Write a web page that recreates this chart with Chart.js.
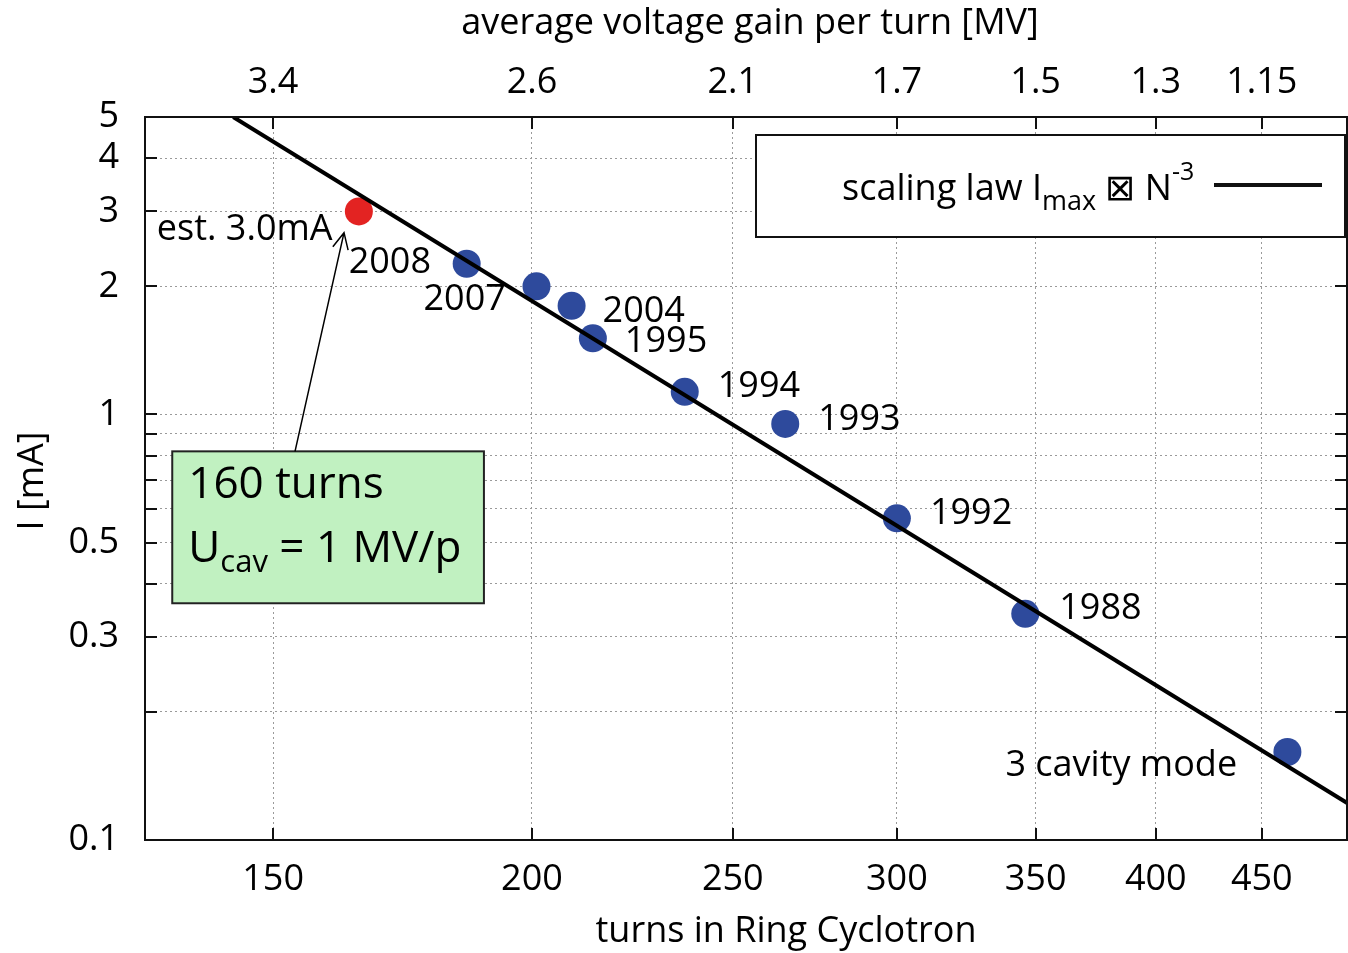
<!DOCTYPE html>
<html>
<head>
<meta charset="utf-8">
<script src="https://cdn.jsdelivr.net/npm/chart.js@4.4.0/dist/chart.umd.min.js"></script>
<style>
  html, body { margin: 0; padding: 0; background: #fff; overflow: hidden; }
  canvas { display: block; }
</style>
</head>
<body>
<canvas id="cyclotron" width="1348" height="953"></canvas>
<script>
// measured maximum beam current per run
const runLabels = ['2008', '2007', '2004', '1995', '1994', '1993', '1992', '1988', '3 cavity mode'];
const runTurns = [186, 201, 209, 214, 237, 265, 300, 346, 463];
const runCurrent = [2.26, 2.0, 1.8, 1.51, 1.13, 0.95, 0.57, 0.34, 0.161];

// projected operating point
const estLabels = ['est. 3.0mA'];
const estTurns = [165];
const estCurrent = [3.0];

// scaling law I ~ N^-3, end points
const lawTurns = [143.5, 495];
const lawCurrent = [5.0, 0.122];

// axes
const turnTicks = [150, 200, 250, 300, 350, 400, 450];
const voltageTicks = ['3.4', '2.6', '2.1', '1.7', '1.5', '1.3', '1.15'];
const currentGrid = [0.1, 0.2, 0.3, 0.4, 0.5, 0.6, 0.7, 0.8, 0.9, 1, 2, 3, 4, 5];
const currentLabels = [0.1, 0.3, 0.5, 1, 2, 3, 4, 5];

// label placement next to each point (px)
const runLabelOffsets = [[-118, -1], [-113, 13], [31, 6], [32, 3], [33, -5], [33, -4], [33, -5], [34, -5], [-282, 14]];
const estLabelOffsets = [[-202, 18]];

const FONT = "'Open Sans', sans-serif";
const TICK = 12;
const FS = 36;

Chart.defaults.font.family = FONT;
Chart.defaults.color = '#000';

function drawRich(ctx, parts, x, y) {
  // parts: [text, size, baselineShift]
  parts.forEach(([t, size, dy]) => {
    ctx.font = size + 'px ' + FONT;
    ctx.fillText(t, x, y + dy);
    x += ctx.measureText(t).width;
  });
}

// fixed axis boxes, no extra edge padding for labels
function fixBox(size) {
  return s => {
    if (s.isHorizontal()) s.height = size; else s.width = size;
    s.paddingLeft = 0; s.paddingRight = 0; s.paddingTop = 0; s.paddingBottom = 0;
  };
}

const overlay = {
  id: 'overlay',
  afterDraw(chart) {
    const { ctx, chartArea: a, scales } = chart;
    const xs = scales.x, ys = scales.y;
    ctx.save();

    // frame with inward ticks
    ctx.strokeStyle = '#111';
    ctx.lineWidth = 2;
    ctx.strokeRect(a.left, a.top, a.right - a.left, a.bottom - a.top);
    ctx.beginPath();
    currentGrid.forEach(v => {
      const py = Math.round(ys.getPixelForValue(v));
      ctx.moveTo(a.left, py); ctx.lineTo(a.left + TICK, py);
      ctx.moveTo(a.right, py); ctx.lineTo(a.right - TICK, py);
    });
    turnTicks.forEach(v => {
      const px = Math.round(xs.getPixelForValue(v));
      ctx.moveTo(px, a.top); ctx.lineTo(px, a.top + TICK);
      ctx.moveTo(px, a.bottom); ctx.lineTo(px, a.bottom - TICK);
    });
    ctx.stroke();

    // point labels
    ctx.fillStyle = '#000';
    ctx.textAlign = 'left';
    ctx.textBaseline = 'middle';
    ctx.font = FS + 'px ' + FONT;
    runLabels.forEach((t, i) => {
      const px = xs.getPixelForValue(runTurns[i]);
      const py = ys.getPixelForValue(runCurrent[i]);
      ctx.fillText(t, px + runLabelOffsets[i][0], py + runLabelOffsets[i][1]);
    });
    estLabels.forEach((t, i) => {
      const px = xs.getPixelForValue(estTurns[i]);
      const py = ys.getPixelForValue(estCurrent[i]);
      ctx.fillText(t, px + estLabelOffsets[i][0], py + estLabelOffsets[i][1]);
    });

    // legend box
    const lx0 = a.right - 591, ly0 = a.top + 18, lx1 = a.right - 2, ly1 = a.top + 120;
    ctx.fillStyle = '#fff';
    ctx.fillRect(lx0, ly0, lx1 - lx0, ly1 - ly0);
    ctx.strokeStyle = '#111';
    ctx.lineWidth = 2;
    ctx.strokeRect(lx0, ly0, lx1 - lx0, ly1 - ly0);
    ctx.fillStyle = '#000';
    ctx.textBaseline = 'alphabetic';
    drawRich(ctx, [['scaling law I', FS, 0], ['max', 27, 10], [' \u22A0 N', FS, 0], ['-3', 25, -20]], lx0 + 86, ly0 + 65);
    ctx.beginPath();
    ctx.lineWidth = 4;
    ctx.moveTo(lx0 + 458, ly0 + 50);
    ctx.lineTo(lx0 + 566, ly0 + 50);
    ctx.stroke();

    // note box with arrow to the projected point
    const bx0 = xs.getPixelForValue(134.1), bx1 = xs.getPixelForValue(189.6);
    const by0 = ys.getPixelForValue(0.819), by1 = ys.getPixelForValue(0.36);
    ctx.fillStyle = '#c1f1c1';
    ctx.fillRect(bx0, by0, bx1 - bx0, by1 - by0);
    ctx.lineWidth = 2;
    ctx.strokeStyle = '#222';
    ctx.strokeRect(bx0, by0, bx1 - bx0, by1 - by0);
    ctx.fillStyle = '#000';
    drawRich(ctx, [['160 turns', 44, 0]], bx0 + 16, by0 + 47);
    drawRich(ctx, [['U', 44, 0], ['cav', 31, 10], [' = 1 MV/p', 44, 0]], bx0 + 16, by0 + 111);

    const tx = xs.getPixelForValue(153.7), ty = ys.getPixelForValue(0.819);
    const hx = xs.getPixelForValue(162.3), hy = ys.getPixelForValue(2.674);
    const ang = Math.atan2(hy - ty, hx - tx);
    ctx.beginPath();
    ctx.lineWidth = 1.5;
    ctx.strokeStyle = '#000';
    ctx.moveTo(tx, ty); ctx.lineTo(hx, hy);
    ctx.moveTo(hx - 18 * Math.cos(ang - 0.45), hy - 18 * Math.sin(ang - 0.45));
    ctx.lineTo(hx, hy);
    ctx.lineTo(hx - 18 * Math.cos(ang + 0.45), hy - 18 * Math.sin(ang + 0.45));
    ctx.stroke();

    // axis titles
    ctx.font = FS + 'px ' + FONT;
    ctx.textAlign = 'center';
    ctx.textBaseline = 'alphabetic';
    ctx.fillText('average voltage gain per turn [MV]', 750, 34);
    ctx.fillText('turns in Ring Cyclotron', 786, 942);
    ctx.translate(43, 481);
    ctx.rotate(-Math.PI / 2);
    ctx.fillText('I [mA]', 0, 0);

    ctx.restore();
  }
};

const gridStyle = { color: '#9a9a9a', lineWidth: 1, drawTicks: false };
const dotted = { display: false, dash: [2, 3] };

new Chart(document.getElementById('cyclotron'), {
  type: 'scatter',
  data: {
    datasets: [
      {
        type: 'line',
        label: 'scaling law',
        data: lawTurns.map((n, i) => ({ x: n, y: lawCurrent[i] })),
        borderColor: '#000',
        borderWidth: 4,
        pointRadius: 0,
        fill: false
      },
      {
        label: 'runs',
        data: runTurns.map((n, i) => ({ x: n, y: runCurrent[i] })),
        backgroundColor: '#2e4a9c',
        borderWidth: 0,
        pointRadius: 14
      },
      {
        label: 'estimate',
        data: estTurns.map((n, i) => ({ x: n, y: estCurrent[i] })),
        backgroundColor: '#e32322',
        borderWidth: 0,
        pointRadius: 14
      }
    ]
  },
  options: {
    responsive: false,
    animation: false,
    layout: { autoPadding: false, padding: { left: 0, right: 1, top: 0, bottom: 0 } },
    plugins: { legend: { display: false }, tooltip: { enabled: false } },
    scales: {
      x: {
        type: 'logarithmic',
        position: 'bottom',
        min: 130.1,
        max: 494.7,
        afterBuildTicks: s => { s.ticks = turnTicks.map(v => ({ value: v })); },
        afterFit: fixBox(113),
        ticks: { font: { size: FS }, padding: 18, maxRotation: 0, autoSkip: false, callback: v => String(v) },
        grid: gridStyle,
        border: dotted
      },
      x2: {
        type: 'logarithmic',
        position: 'top',
        min: 130.1,
        max: 494.7,
        afterBuildTicks: s => { s.ticks = turnTicks.map(v => ({ value: v })); },
        afterFit: fixBox(117),
        ticks: {
          font: { size: FS }, padding: 5, maxRotation: 0, autoSkip: false,
          callback: v => voltageTicks[turnTicks.indexOf(v)]
        },
        grid: { display: false },
        border: { display: false }
      },
      y: {
        type: 'logarithmic',
        min: 0.1,
        max: 5,
        afterBuildTicks: s => { s.ticks = currentGrid.map(v => ({ value: v })); },
        afterFit: fixBox(145),
        ticks: {
          font: { size: FS }, padding: 26, autoSkip: false,
          callback: v => currentLabels.includes(v) ? String(v) : ''
        },
        grid: gridStyle,
        border: dotted
      }
    }
  },
  plugins: [overlay]
});
</script>
</body>
</html>
